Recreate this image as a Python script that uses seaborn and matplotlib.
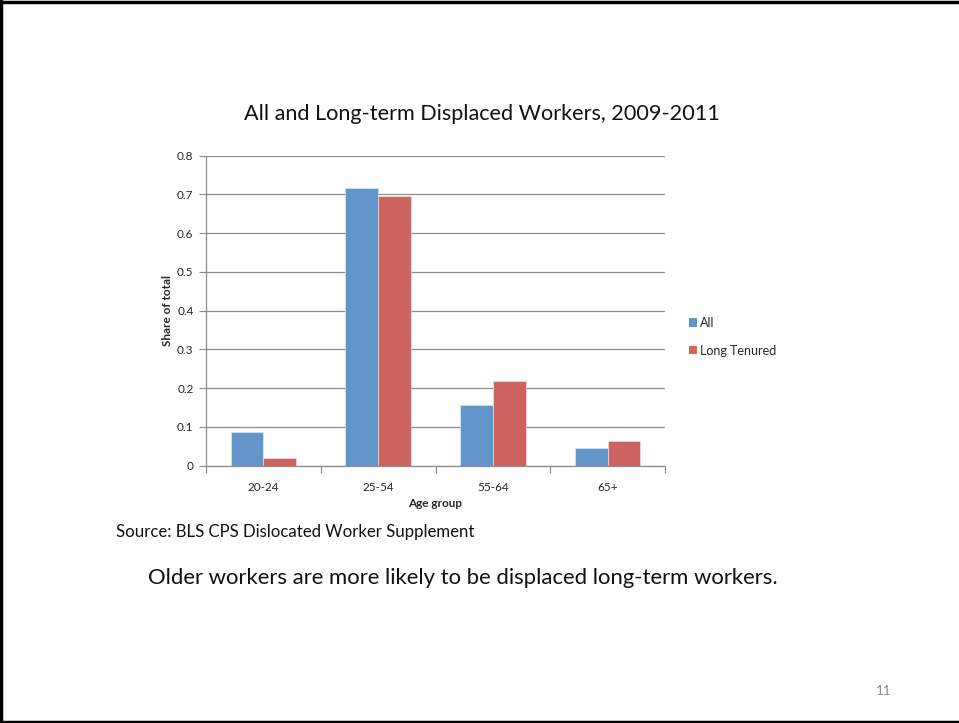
import matplotlib
matplotlib.use("Agg")
import matplotlib.pyplot as plt
from matplotlib.lines import Line2D
from matplotlib.patches import Rectangle
import numpy as np
import pandas as pd
import seaborn as sns

# Data
age_groups = ["20-24", "25-54", "55-64", "65+"]
share_all = [0.086, 0.716, 0.156, 0.045]
share_long_tenured = [0.021, 0.696, 0.219, 0.064]
series_names = ["All", "Long Tenured"]
y_ticks = [0, 0.1, 0.2, 0.3, 0.4, 0.5, 0.6, 0.7, 0.8]
y_tick_labels = ["0", "0.1", "0.2", "0.3", "0.4", "0.5", "0.6", "0.7", "0.8"]

df = pd.DataFrame({
    "Age group": age_groups * 2,
    "Share": share_all + share_long_tenured,
    "Series": [series_names[0]] * 4 + [series_names[1]] * 4,
})

sns.set_theme(style="white")
plt.rcParams["font.family"] = ["Lato", "DejaVu Sans"]

colors = ["#6295C9", "#CC655F"]

fig = plt.figure(figsize=(9.59, 7.23), dpi=100)
ax = fig.add_axes([206 / 959, 1 - 465.7 / 723, (665 - 206) / 959, (465.7 - 155.7) / 723])

sns.barplot(data=df, x="Age group", y="Share", hue="Series", palette=colors,
            width=0.57, gap=0, saturation=1, ax=ax, legend=False,
            edgecolor="#e8eef6", linewidth=0.4)

ax.set_ylim(0, 0.8)
ax.set_xlim(-0.5, 3.5)
ax.set_yticks(y_ticks)
ax.set_yticklabels(y_tick_labels, fontsize=8.5)
ax.yaxis.grid(True, color="#8c8c8c", linewidth=0.9)
ax.set_axisbelow(True)

ax.set_xticks(range(len(age_groups)))
ax.set_xticklabels(age_groups, fontsize=8.5)
ax.set_xticks(np.arange(-0.5, 4.0, 1.0), minor=True)
ax.tick_params(axis="x", which="major", length=0, pad=12)
ax.tick_params(axis="x", which="minor", length=5, width=0.8, color="#8c8c8c", direction="out", bottom=True)
ax.tick_params(axis="y", which="major", length=5, width=0.8, color="#8c8c8c", direction="out", left=True, pad=4)

for side in ["top", "right"]:
    ax.spines[side].set_visible(False)
for side in ["left", "bottom"]:
    ax.spines[side].set_color("#8c8c8c")
    ax.spines[side].set_linewidth(0.9)

ax.set_xlabel("Age group", fontsize=8.5, fontweight="bold", labelpad=3)
ax.set_ylabel("Share of total", fontsize=8.5, fontweight="bold", labelpad=3)

# Legend
handles = [Rectangle((0, 0), 1, 1, facecolor=c, edgecolor="none") for c in colors]
fig.legend(handles, series_names, loc="upper left", bbox_to_anchor=(684 / 959, 1 - 312 / 723),
           frameon=False, fontsize=9, handlelength=0.65, handleheight=0.65,
           handletextpad=0.2, labelspacing=1.25, borderaxespad=0)

# Titles and slide text
fig.text(481.5 / 959, 1 - 114.5 / 723, "All and Long-term Displaced Workers, 2009-2011",
         ha="center", va="center", fontsize=15.6, color="#111111")
fig.text(116 / 959, 1 - 532 / 723, "Source: BLS CPS Dislocated Worker Supplement",
         ha="left", va="center", fontsize=12.1, color="#111111")
fig.text(148 / 959, 1 - 578 / 723, "Older workers are more likely to be displaced long-term workers.",
         ha="left", va="center", fontsize=15.9, color="#111111")
fig.text(884 / 959, 1 - 691 / 723, "11", ha="center", va="center", fontsize=9.5, color="#8a8a8a")

# Slide frame
fig.add_artist(Line2D([1 / 959, 1 / 959], [0, 1], transform=fig.transFigure, color="black", linewidth=2.5))
fig.add_artist(Line2D([0, 1], [1 - 1.5 / 723, 1 - 1.5 / 723], transform=fig.transFigure, color="black", linewidth=2.5))
fig.add_artist(Line2D([0, 1], [1.5 / 723, 1.5 / 723], transform=fig.transFigure, color="black", linewidth=2.5))

fig.savefig("out.png", dpi=100)
